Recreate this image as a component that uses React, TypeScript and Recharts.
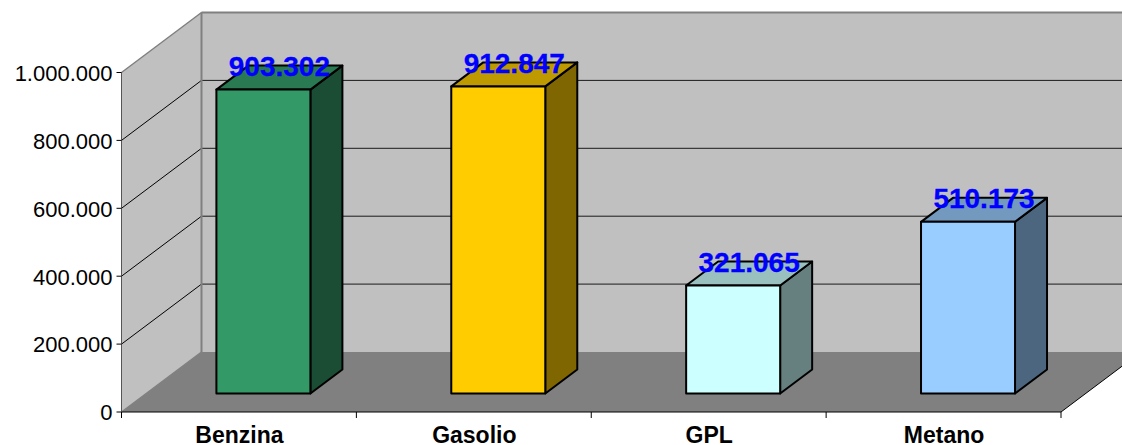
import { BarChart, Bar, XAxis, YAxis, ReferenceArea, LabelList } from 'recharts';

const categories = ['Benzina', 'Gasolio', 'GPL', 'Metano'];
const values = [903302, 912847, 321065, 510173];
const yTicks = [0, 200000, 400000, 600000, 800000, 1000000];

const faceColors = ['#339966', '#FFCC00', '#CCFFFF', '#99CCFF'];
const topColors = ['#297A52', '#BF9900', '#99BFBF', '#7399BF'];
const sideColors = ['#1A4D33', '#806600', '#668080', '#4D6680'];

const chartData = categories.map((name, i) => ({ name, value: values[i], index: i }));

const W = 1122;
const H = 445;
const axisWidth = 121.5;
const axisHeight = 33;
const margin = { top: 72.5, right: 61, bottom: 0, left: 0 };

// 3D offsets: whole floor depth, and how far the bars sit from the front edge
const wallDx = 80;
const wallDy = -60;
const barDx = 24.9;
const barDy = -18.5;
const sideDx = 32;
const sideDy = -24;
// bars sit further back, so their scale is a touch smaller than the axis
const barShrink = 0.991;

const formatIt = (v: number) => String(v).replace(/\B(?=(\d{3})+(?!\d))/g, '.');

function Walls({ x, y, width, height }: any) {
  const bottom = y + height;
  const right = x + width;
  const bx = x + wallDx;
  const overshoot = right + wallDx;
  return (
    <g>
      <polygon points={`${bx},${y + wallDy} ${overshoot},${y + wallDy} ${overshoot},${bottom + wallDy} ${bx},${bottom + wallDy}`} fill="#C0C0C0" />
      <polygon points={`${x},${y} ${bx},${y + wallDy} ${bx},${bottom + wallDy} ${x},${bottom}`} fill="#C0C0C0" />
      <polygon points={`${x},${bottom} ${bx},${bottom + wallDy} ${overshoot},${bottom + wallDy} ${right},${bottom}`} fill="#808080" />
      {yTicks.slice(1).map(t => {
        const ty = bottom - (t / 1000000) * height;
        return (
          <g key={t}>
            {t < 1000000 && <line x1={x} y1={ty} x2={bx} y2={ty + wallDy} stroke="#000" strokeWidth={1} />}
            <line x1={bx} y1={ty + wallDy} x2={overshoot} y2={ty + wallDy} stroke={t === 1000000 ? '#606060' : '#1a1a1a'} strokeWidth={1} />
          </g>
        );
      })}
      <line x1={bx} y1={y + wallDy} x2={overshoot} y2={y + wallDy} stroke="#808080" strokeWidth={2} />
      <line x1={bx} y1={y + wallDy} x2={bx} y2={bottom + wallDy} stroke="#808080" strokeWidth={2} />
      <line x1={x} y1={y} x2={bx} y2={y + wallDy} stroke="#808080" strokeWidth={1.5} />
      <line x1={x} y1={bottom} x2={bx} y2={bottom + wallDy} stroke="#808080" strokeWidth={1.5} />
      <line x1={right} y1={bottom} x2={overshoot} y2={bottom + wallDy} stroke="#000" strokeWidth={1} />
    </g>
  );
}

function Bar3D({ x, y, width, height, index }: any) {
  const l = x + barDx;
  const r = l + width;
  const b = y + height + barDy;
  const t = b - height * barShrink;
  const stroke = { stroke: '#000', strokeWidth: 2, strokeLinejoin: 'round' as const };
  return (
    <g>
      <polygon points={`${r},${t} ${r + sideDx},${t + sideDy} ${r + sideDx},${b + sideDy} ${r},${b}`} fill={sideColors[index]} {...stroke} />
      <polygon points={`${l},${t} ${l + sideDx},${t + sideDy} ${r + sideDx},${t + sideDy} ${r},${t}`} fill={topColors[index]} {...stroke} />
      <rect x={l} y={t} width={width} height={b - t} fill={faceColors[index]} {...stroke} />
    </g>
  );
}

function ValueLabel({ x, y, width, height, value }: any) {
  const top = y + height + barDy - height * barShrink;
  return (
    <text
      x={x + barDx + width / 2 + sideDx / 2}
      y={top - 13.5}
      textAnchor="middle"
      fontFamily="'Liberation Sans', Arial, sans-serif"
      fontWeight="bold"
      fontSize={28}
      fill="#0000FF"
      stroke="#0000FF"
      strokeWidth={0.3}
    >
      {formatIt(value)}
    </text>
  );
}

function CategoryTick({ x, y, payload, index }: any) {
  const half = (W - axisWidth - margin.right) / categories.length / 2;
  // the tick y comes in below the axis line by the default tick gap
  const axisY = y - 8;
  return (
    <g>
      <line x1={x - half} y1={axisY} x2={x - half} y2={axisY + 6} stroke="#000" />
      {index === categories.length - 1 && <line x1={x + half} y1={axisY} x2={x + half} y2={axisY + 6} stroke="#000" />}
      <text x={x + 0.5} y={axisY + 31} textAnchor="middle" fontFamily="'Liberation Sans', Arial, sans-serif" fontWeight="bold" fontSize={23} fill="#000">
        {payload.value}
      </text>
    </g>
  );
}

export default function App() {
  return (
    <div style={{ position: 'absolute', left: 0, top: 0, width: W, height: H, overflow: 'hidden', background: '#fff' }}>
      <BarChart width={W} height={H} data={chartData} margin={margin} barCategoryGap={0}>
        <XAxis
          dataKey="name"
          height={axisHeight}
          axisLine={{ stroke: '#000' }}
          tickLine={false}
          interval={0}
          tick={<CategoryTick />}
        />
        <YAxis
          width={axisWidth}
          domain={[0, 1000000]}
          ticks={yTicks}
          tickFormatter={formatIt}
          interval={0}
          axisLine={{ stroke: '#555' }}
          tickLine={{ stroke: '#000' }}
          tickSize={5}
          tickMargin={4}
          tick={{ fill: '#000', fontSize: 22, dy: 0.5, fontFamily: "'Liberation Sans', Arial, sans-serif" }}
        />
        <ReferenceArea y1={0} y2={1000000} ifOverflow="visible" shape={<Walls />} />
        <Bar dataKey="value" barSize={94} isAnimationActive={false} shape={<Bar3D />}>
          <LabelList dataKey="value" content={<ValueLabel />} />
        </Bar>
      </BarChart>
    </div>
  );
}
